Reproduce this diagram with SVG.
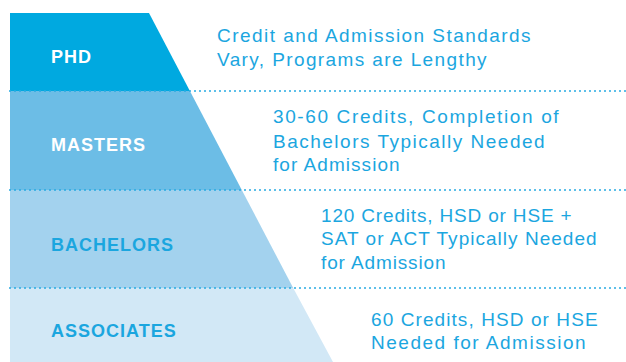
<svg xmlns="http://www.w3.org/2000/svg" width="626" height="362" viewBox="0 0 626 362">
<style>
.lbl{font-family:"Liberation Sans",Arial,sans-serif;font-weight:bold;font-size:18px;letter-spacing:1px}
.w{fill:#ffffff}
.b{fill:#1ba6df}
.desc{font-family:"Liberation Sans",Arial,sans-serif;font-size:19px;letter-spacing:1.4px;fill:#1ba6df}
.dot{stroke:#29abe2;stroke-width:1.5;stroke-dasharray:2 3;fill:none}
</style>
<rect width="626" height="362" fill="#ffffff"/>
<g id="phd">
<polygon points="10,13 149,13 189.9,91 10,91" fill="#00a9e0"/>
<text class="lbl w" x="51" y="63">PHD</text>
<text class="desc" x="217" y="42" textLength="315" lengthAdjust="spacing">Credit and Admission Standards</text>
<text class="desc" x="217" y="66" textLength="271" lengthAdjust="spacing">Vary, Programs are Lengthy</text>
</g>
<g id="masters">
<polygon points="10,91 189.9,91 241.8,190 10,190" fill="#6cbde6"/>
<text class="lbl w" x="51" y="151">MASTERS</text>
<text class="desc" x="273" y="123" textLength="287" lengthAdjust="spacing">30-60 Credits, Completion of</text>
<text class="desc" x="273" y="148" textLength="273" lengthAdjust="spacing">Bachelors Typically Needed</text>
<text class="desc" x="273" y="171" textLength="128" lengthAdjust="spacing">for Admission</text>
</g>
<g id="bachelors">
<polygon points="10,190 241.8,190 293.2,288 10,288" fill="#a3d2ee"/>
<text class="lbl b" x="51" y="251">BACHELORS</text>
<text class="desc" x="321" y="222" textLength="252" lengthAdjust="spacing">120 Credits, HSD or HSE +</text>
<text class="desc" x="321" y="245" textLength="277" lengthAdjust="spacing">SAT or ACT Typically Needed</text>
<text class="desc" x="321" y="269" textLength="126" lengthAdjust="spacing">for Admission</text>
</g>
<g id="associates">
<polygon points="10,288 293.2,288 333,362 10,362" fill="#d2e8f6"/>
<text class="lbl b" x="51" y="337">ASSOCIATES</text>
<text class="desc" x="371" y="326" textLength="228" lengthAdjust="spacing">60 Credits, HSD or HSE</text>
<text class="desc" x="371" y="349" textLength="216" lengthAdjust="spacing">Needed for Admission</text>
</g>
<g id="connectors">
<line class="dot" x1="9" y1="91" x2="626" y2="91"/>
<line class="dot" x1="9" y1="190" x2="626" y2="190"/>
<line class="dot" x1="9" y1="288" x2="626" y2="288"/>
</g>
</svg>
